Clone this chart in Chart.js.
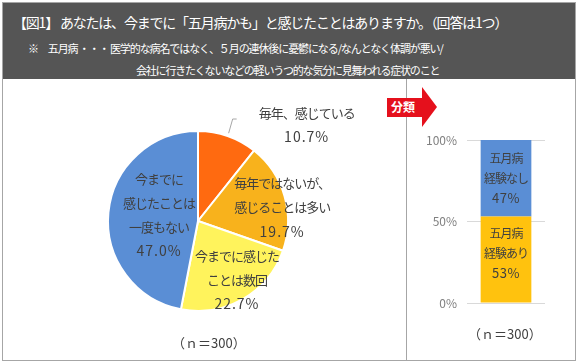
<!DOCTYPE html>
<html lang="ja">
<head>
<meta charset="utf-8">
<script src="https://cdn.jsdelivr.net/npm/chart.js@4.4.0/dist/chart.umd.min.js"></script>
<style>
  body { margin: 0; background: #fff; font-family: "Noto Sans CJK JP", sans-serif; }
  #frame { position: absolute; left: 2px; top: 2px; width: 572px; height: 357px; border: 1px solid #a6a6a6; }
  #header { position: absolute; left: 0; top: 0; width: 572px; height: 76px; background: #555555; color: #fff; }
  #title { position: absolute; left: 10px; top: 9px; font-size: 14px; letter-spacing: -1.2px; white-space: nowrap; }
  #note1 { position: absolute; left: 25px; top: 37px; font-size: 11px; letter-spacing: -1.1px; white-space: nowrap; }
  #note2 { position: absolute; left: 133px; top: 59px; font-size: 11px; letter-spacing: -1.2px; white-space: nowrap; }
  #divider { position: absolute; left: 403px; top: 76px; width: 1px; height: 281px; background: #a6a6a6; }
  #pieWrap { position: absolute; left: 2px; top: 78px; width: 404px; height: 282px; }
  #barWrap { position: absolute; left: 407px; top: 78px; width: 167px; height: 282px; }
  .n { position: absolute; font-size: 13px; color: #404040; white-space: nowrap; }
  #arrow { position: absolute; left: 0; top: 0; }
</style>
</head>
<body>
<div id="frame">
  <div id="header">
    <div id="title">【図1】 あなたは、今までに「五月病かも」と感じたことはありますか。（回答は1つ）</div>
    <div id="note1">※　五月病 ・・・ 医学的な病名ではなく、５月の連休後に憂鬱になる/なんとなく体調が悪い/</div>
    <div id="note2">会社に行きたくないなどの軽いうつ的な気分に見舞われる症状のこと</div>
  </div>
  <div id="divider"></div>
</div>
<div id="pieWrap"><canvas id="pie" width="404" height="282"></canvas></div>
<div id="barWrap"><canvas id="bar" width="167" height="282"></canvas></div>
<svg id="arrow" width="577" height="363">
  <rect x="387" y="98" width="36" height="19" fill="#e5101c"/>
  <polygon points="422,87 437,107 422,127" fill="#e5101c"/>
  <text x="403" y="112" fill="#fff" font-size="12" font-weight="bold" text-anchor="middle" font-family="Noto Sans CJK JP">分類</text>
</svg>
<div class="n" style="left:172px; top:333px;">（ｎ＝300）</div>
<div class="n" style="left:468px; top:324px;">（ｎ＝300）</div>

<script>
// pie data
const pieCategories = ['毎年、感じている', '毎年ではないが、感じることは多い', '今までに感じたことは数回', '今までに感じたことは一度もない'];
const pieLines = [['毎年、感じている'], ['毎年ではないが、', '感じることは多い'], ['今までに感じた', 'ことは数回'], ['今までに', '感じたことは', '一度もない']];
const pieValues = [10.7, 19.7, 22.7, 47.0];
const pieColors = ['#ff6a10', '#f8b21c', '#fff35c', '#5a8ed5'];

// bar data
const barCategories = ['分類'];
const barSeriesNames = ['五月病\n経験あり', '五月病\n経験なし'];
const barHave = [53];
const barNone = [47];
const yTicks = [0, 50, 100];

// label placement (radius factor + pixel nudge)
const labelPos = [
  { f: 1.0, dx: 79, dy: -11 },
  { f: 0.95, dx: 2, dy: 10 },
  { f: 0.78, dx: 4, dy: -2 },
  { f: 0.48, dx: 4, dy: -2 }
];

const pieLabelPlugin = {
  id: 'pieLabels',
  afterDatasetsDraw(chart) {
    const ctx = chart.ctx;
    const arcs = chart.getDatasetMeta(0).data;
    ctx.save();
    ctx.fillStyle = '#404040';
    ctx.textAlign = 'center';
    ctx.textBaseline = 'middle';
    arcs.forEach((arc, i) => {
      const mid = (arc.startAngle + arc.endAngle) / 2;
      const p = labelPos[i];
      const bx = arc.x + Math.cos(mid) * arc.outerRadius * p.f;
      const by = arc.y + Math.sin(mid) * arc.outerRadius * p.f;
      const lines = pieLines[i].concat([pieValues[i].toFixed(1) + '%']);
      const lh = 24;
      const cx = bx + p.dx, cy = by + p.dy;
      lines.forEach((t, k) => {
        const isPct = k === lines.length - 1;
        ctx.font = isPct ? '14px "Noto Sans CJK JP"' : '13px "Noto Sans CJK JP"';
        ctx.letterSpacing = isPct ? '1px' : '-1px';
        ctx.fillText(t, cx, cy + (k - (lines.length - 1) / 2) * lh);
      });
      if (i === 0) {
        // leader line
        ctx.strokeStyle = '#a6a6a6';
        ctx.lineWidth = 1;
        ctx.beginPath();
        ctx.moveTo(arc.x + Math.cos(mid) * (arc.outerRadius + 3), arc.y + Math.sin(mid) * (arc.outerRadius + 3));
        ctx.lineTo(bx + 5, by - 17);
        ctx.lineTo(bx + 9, by - 17);
        ctx.stroke();
      }
    });
    ctx.restore();
  }
};

new Chart(document.getElementById('pie'), {
  type: 'pie',
  data: {
    labels: pieCategories,
    datasets: [{
      data: pieValues,
      backgroundColor: pieColors,
      borderColor: '#fff',
      borderWidth: 2
    }]
  },
  options: {
    responsive: false,
    animation: false,
    layout: { padding: { left: 105, top: 52, right: 117, bottom: 48 } },
    plugins: { legend: { display: false }, tooltip: { enabled: false } }
  },
  plugins: [pieLabelPlugin]
});

const barLabelPlugin = {
  id: 'barLabels',
  afterDatasetsDraw(chart) {
    const ctx = chart.ctx;
    ctx.save();
    ctx.fillStyle = '#404040';
    ctx.textAlign = 'center';
    ctx.textBaseline = 'middle';
    chart.data.datasets.forEach((ds, di) => {
      chart.getDatasetMeta(di).data.forEach((bar, j) => {
        const lines = barSeriesNames[di].split('\n').concat([ds.data[j] + '%']);
        const cy = (bar.y + bar.base) / 2 - (di === 0 ? 6 : 0);
        lines.forEach((t, k) => {
          const isPct = k === lines.length - 1;
          ctx.font = isPct ? '13px "Noto Sans CJK JP"' : '12px "Noto Sans CJK JP"';
          ctx.letterSpacing = isPct ? '0.5px' : '-1px';
          ctx.fillText(t, bar.x, cy + (k - 1) * 20);
        });
      });
    });
    ctx.restore();
  }
};

new Chart(document.getElementById('bar'), {
  type: 'bar',
  data: {
    labels: barCategories,
    datasets: [
      { label: barSeriesNames[0], data: barHave, backgroundColor: '#ffc20e', barPercentage: 0.65, categoryPercentage: 1 },
      { label: barSeriesNames[1], data: barNone, backgroundColor: '#5a8ed5', barPercentage: 0.65, categoryPercentage: 1 }
    ]
  },
  options: {
    responsive: false,
    animation: false,
    layout: { padding: { left: 0, top: 62, right: 29, bottom: 57 } },
    scales: {
      x: { stacked: true, display: false },
      y: {
        stacked: true,
        min: 0,
        max: 100,
        afterFit: s => { s.width = 60; },
        afterBuildTicks: s => { s.ticks = yTicks.map(v => ({ value: v })); },
        border: { display: false },
        grid: { color: '#d9d9d9', drawTicks: false },
        ticks: {
          padding: 10,
          color: '#808080',
          font: { family: 'Noto Sans CJK JP', size: 12 },
          callback: v => v + '%'
        }
      }
    },
    plugins: { legend: { display: false }, tooltip: { enabled: false } }
  },
  plugins: [barLabelPlugin]
});
</script>
</body>
</html>
